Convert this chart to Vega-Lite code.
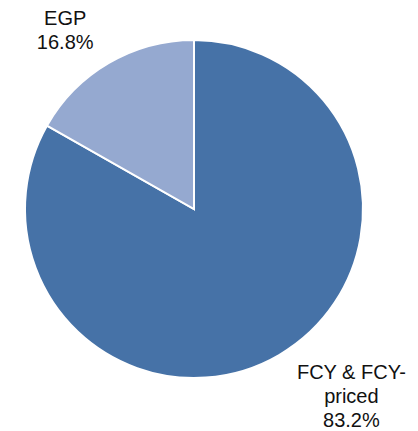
{
  "$schema": "https://vega.github.io/schema/vega-lite/v6.json",
  "width": 388,
  "height": 418,
  "autosize": {"type": "none"},
  "padding": {"left": 0, "top": 0, "right": 30, "bottom": 13},
  "background": "white",
  "view": {"stroke": null},
  "data": {
    "values": [
      {"category": "FCY & FCY-priced", "label": "FCY & FCY-\npriced\n83.2%", "share": 83.2, "order": 1},
      {"category": "EGP", "label": "EGP\n16.8%", "share": 16.8, "order": 2}
    ]
  },
  "encoding": {
    "theta": {"field": "share", "type": "quantitative", "stack": true},
    "order": {"field": "order", "type": "quantitative"}
  },
  "layer": [
    {
      "mark": {"type": "arc", "radius": 169, "stroke": "white", "strokeWidth": 2},
      "encoding": {
        "color": {
          "field": "category",
          "type": "nominal",
          "scale": {"domain": ["FCY & FCY-priced", "EGP"], "range": ["#4672a7", "#95a9d0"]},
          "legend": null
        }
      }
    },
    {
      "mark": {"type": "text", "radius": 220, "dx": -18, "dy": 0, "lineBreak": "\n", "font": "Liberation Sans", "fontSize": 20, "lineHeight": 24, "color": "#111111", "align": "center", "baseline": "middle"},
      "encoding": {"text": {"condition": {"test": "datum.category === 'EGP'", "field": "label"}, "value": ""}}
    },
    {
      "mark": {"type": "text", "radius": 243, "dx": 35, "dy": -46, "lineBreak": "\n", "font": "Liberation Sans", "fontSize": 20, "lineHeight": 24, "color": "#111111", "align": "center", "baseline": "middle"},
      "encoding": {"text": {"condition": {"test": "datum.category !== 'EGP'", "field": "label"}, "value": ""}}
    }
  ]
}
